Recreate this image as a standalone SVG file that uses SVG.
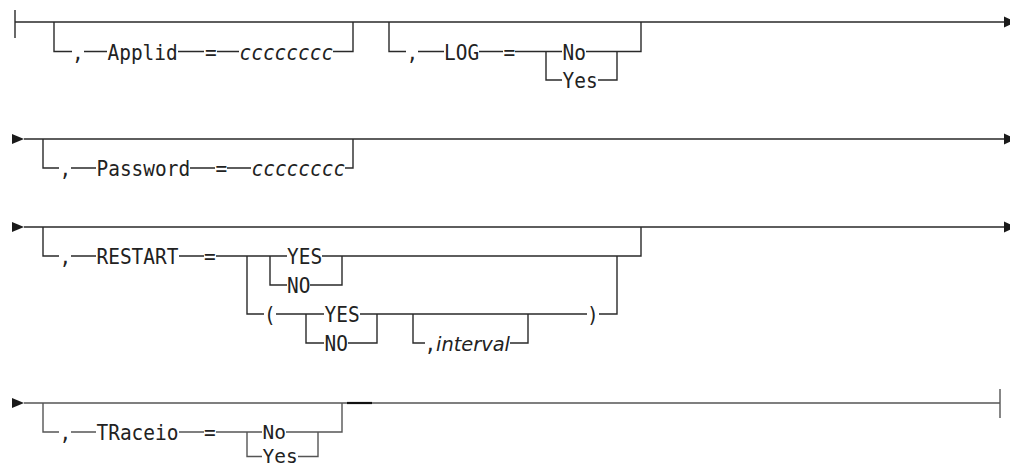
<svg xmlns="http://www.w3.org/2000/svg" width="1010" height="468" viewBox="0 0 1010 468">
<style>
.t{font-family:"DejaVu Sans Mono","Liberation Mono",monospace;font-size:22px;fill:#222}
.s{font-size:20px}
.v{font-style:italic}
.iv{font-family:"DejaVu Sans","Liberation Sans",sans-serif;font-style:italic;font-size:20px;fill:#222}
.l{stroke:#2a2a2a;stroke-width:1.4;fill:none}
.g{stroke:#555}
.ar{fill:#1a1a1a}
</style>
<rect width="1010" height="468" fill="#fff"/>
<g id="connectors">
<path class="l" d="M15 10V38M15 22H1004M54 22V51.5H72M84 51.5H107M178 51.5H204M217 51.5H239M333 51.5H353V22M389 22V51.5H406M418 51.5H444M479 51.5H503M515 51.5H562M586 51.5H641V22M546 51.5V80H562M598 80H617V51.5"/>
<polygon class="ar" points="1004,16.5 1016,22 1004,27.5"/>
<polygon class="ar" points="12,134 24,139 12,144"/>
<path class="l" d="M24 139H1004M43 139V168H59M71 168H96M190 168H215M227 168H251M345 168H353V139"/>
<polygon class="ar" points="1004,133.5 1016,139 1004,144.5"/>
<polygon class="ar" points="12,222 24,227 12,232"/>
<path class="l" d="M24 227H1004M43 227V256H59M71 256H96M179 256H204M216 256H287M322 256H641V227M270 256V285H287M310 285H342V256M247 256V314H264M276 314H324M360 314H587M599 314H617V256M306 314V343H324M348 343H377V314M413 314V343H425M510 343H528V314"/>
<polygon class="ar" points="1004,221.5 1016,227 1004,232.5"/>
<polygon class="ar" points="12,398 24,403 12,408"/>
<path class="l g" d="M24 403H1000M1000 389V418M43 403V432H59M71 432H96M179 432H204M216 432H262M286 432H342V403M247 432V456.5H262M298 456.5H318V432"/>
<path d="M347 403H372" stroke="#111" stroke-width="2.2"/>
</g>
<g id="applid">
<text class="t" x="72" y="59.5" textLength="11.7" lengthAdjust="spacingAndGlyphs">,</text>
<text class="t" x="107.5" y="59.5" textLength="70.2" lengthAdjust="spacingAndGlyphs">Applid</text>
<text class="t" x="205" y="59.5" textLength="11.7" lengthAdjust="spacingAndGlyphs">=</text>
<text class="t v" x="239.5" y="59.5" textLength="93.6" lengthAdjust="spacingAndGlyphs">cccccccc</text>
</g>
<g id="log">
<text class="t" x="406.5" y="59.5" textLength="11.7" lengthAdjust="spacingAndGlyphs">,</text>
<text class="t" x="444" y="59.5" textLength="35.1" lengthAdjust="spacingAndGlyphs">LOG</text>
<text class="t" x="503.5" y="59.5" textLength="11.7" lengthAdjust="spacingAndGlyphs">=</text>
<text class="t" x="562.5" y="59.5" textLength="23.4" lengthAdjust="spacingAndGlyphs">No</text>
<text class="t" x="562.5" y="88" textLength="35.1" lengthAdjust="spacingAndGlyphs">Yes</text>
</g>
<g id="password">
<text class="t" x="59.5" y="176" textLength="11.7" lengthAdjust="spacingAndGlyphs">,</text>
<text class="t" x="96.5" y="176" textLength="93.6" lengthAdjust="spacingAndGlyphs">Password</text>
<text class="t" x="215.5" y="176" textLength="11.7" lengthAdjust="spacingAndGlyphs">=</text>
<text class="t v" x="251.5" y="176" textLength="93.6" lengthAdjust="spacingAndGlyphs">cccccccc</text>
</g>
<g id="restart">
<text class="t" x="59.5" y="264" textLength="11.7" lengthAdjust="spacingAndGlyphs">,</text>
<text class="t" x="96.5" y="264" textLength="81.9" lengthAdjust="spacingAndGlyphs">RESTART</text>
<text class="t" x="204" y="264" textLength="11.7" lengthAdjust="spacingAndGlyphs">=</text>
<text class="t" x="287" y="264" textLength="35.1" lengthAdjust="spacingAndGlyphs">YES</text>
<text class="t" x="287" y="293" textLength="23.4" lengthAdjust="spacingAndGlyphs">NO</text>
<text class="t" x="264" y="322" textLength="11.7" lengthAdjust="spacingAndGlyphs">(</text>
<text class="t" x="324.5" y="322" textLength="35.1" lengthAdjust="spacingAndGlyphs">YES</text>
<text class="t" x="324.5" y="351" textLength="23.4" lengthAdjust="spacingAndGlyphs">NO</text>
<text class="t" x="424.5" y="351" textLength="11.7" lengthAdjust="spacingAndGlyphs">,</text>
<text class="iv" x="436" y="351" textLength="74" lengthAdjust="spacingAndGlyphs">interval</text>
<text class="t" x="587" y="322" textLength="11.7" lengthAdjust="spacingAndGlyphs">)</text>
</g>
<g id="traceio">
<text class="t" x="59.5" y="440" textLength="11.7" lengthAdjust="spacingAndGlyphs">,</text>
<text class="t" x="96.5" y="440" textLength="81.9" lengthAdjust="spacingAndGlyphs">TRaceio</text>
<text class="t" x="204" y="440" textLength="11.7" lengthAdjust="spacingAndGlyphs">=</text>
<text class="t s" x="262.5" y="439" textLength="23.4" lengthAdjust="spacingAndGlyphs">No</text>
<text class="t s" x="262.5" y="463" textLength="35.1" lengthAdjust="spacingAndGlyphs">Yes</text>
</g>
</svg>
